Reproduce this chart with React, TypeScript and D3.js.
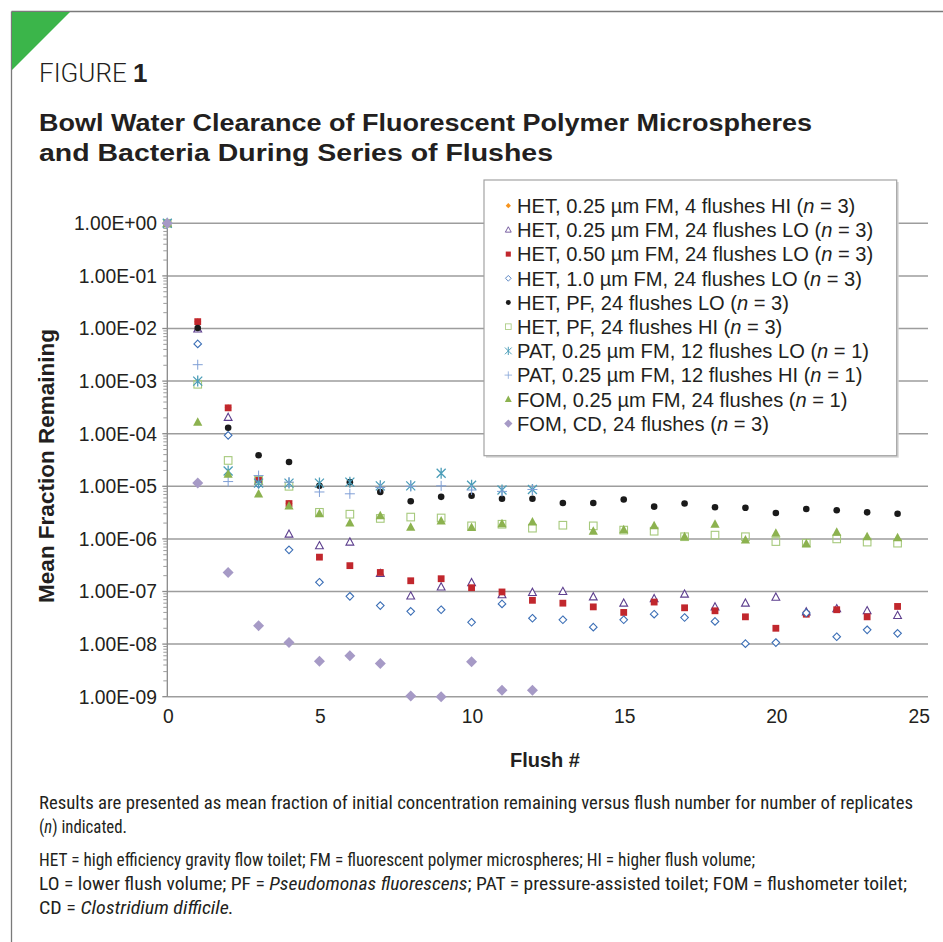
import * as d3 from 'd3';
import React from 'react';

// flush number (x) and one array of mean fraction remaining per series (null = no point)
const flushes = [0, 1, 2, 3, 4, 5, 6, 7, 8, 9, 10, 11, 12, 13, 14, 15, 16, 17, 18, 19, 20, 21, 22, 23, 24];

const het025Hi4 = [1, 1.35e-2, 3.1e-4, 1.3e-5, 4.7e-6];
const het025Lo = [1, 9.8e-3, 2.04e-4, 1.25e-5, 1.23e-6, 7.4e-7, 8.7e-7, 2.2e-7, 8.2e-8, 1.22e-7, 1.47e-7, 8.7e-8, 9.6e-8, 1.0e-7, 7.9e-8, 6.0e-8, 7.3e-8, 8.9e-8, 5.1e-8, 6.0e-8, 7.8e-8, 4.1e-8, 4.7e-8, 4.3e-8, 3.5e-8];
const het050Lo = [1, 1.35e-2, 3.1e-4, 1.3e-5, 4.7e-6, 4.5e-7, 3.1e-7, 2.3e-7, 1.6e-7, 1.75e-7, 1.18e-7, 9.8e-8, 6.8e-8, 6.0e-8, 5.1e-8, 4.0e-8, 6.3e-8, 4.9e-8, 4.3e-8, 3.3e-8, 2.0e-8, 3.7e-8, 4.5e-8, 3.3e-8, 5.2e-8];
const het10Lo = [1, 5.1e-3, 9.3e-5, 1.1e-5, 6.2e-7, 1.5e-7, 8.1e-8, 5.4e-8, 4.2e-8, 4.5e-8, 2.6e-8, 5.8e-8, 3.1e-8, 2.9e-8, 2.1e-8, 2.9e-8, 3.7e-8, 3.2e-8, 2.7e-8, 1.02e-8, 1.07e-8, 3.9e-8, 1.38e-8, 1.87e-8, 1.6e-8];
const hetPfLo = [1, 1.02e-2, 1.3e-4, 3.9e-5, 2.9e-5, 1.02e-5, 1.2e-5, 7.8e-6, 5.2e-6, 6.3e-6, 6.6e-6, 5.8e-6, 5.8e-6, 4.8e-6, 4.8e-6, 5.6e-6, 4.1e-6, 4.7e-6, 4.0e-6, 3.9e-6, 3.1e-6, 3.7e-6, 3.5e-6, 3.2e-6, 3.0e-6];
const hetPfHi = [1, 8.7e-4, 3.1e-5, 1.3e-5, 1.0e-5, 3.2e-6, 2.95e-6, 2.45e-6, 2.6e-6, 2.5e-6, 1.77e-6, 1.9e-6, 1.6e-6, 1.82e-6, 1.77e-6, 1.47e-6, 1.4e-6, 1.1e-6, 1.18e-6, 1.1e-6, 8.9e-7, 8.3e-7, 1.0e-6, 8.7e-7, 8.3e-7];
const pat025Lo = [1, 1.0e-3, 1.95e-5, 1.15e-5, 1.15e-5, 1.15e-5, 1.2e-5, 1.02e-5, 1.02e-5, 1.77e-5, 1.05e-5, 8.5e-6, 8.7e-6];
const pat025Hi = [1, 2.05e-3, 1.23e-5, 1.6e-5, 1.2e-5, 7.8e-6, 7.2e-6, 9.5e-6, 1.0e-5, 1.02e-5, 8.5e-6, 8.0e-6, 8.7e-6];
const fom025 = [1, 1.65e-4, 1.7e-5, 7.1e-6, 4.2e-6, 3.0e-6, 2.0e-6, 2.75e-6, 1.66e-6, 2.2e-6, 1.65e-6, 1.95e-6, 2.1e-6, null, 1.4e-6, 1.5e-6, 1.77e-6, 1.1e-6, 1.9e-6, 9.5e-7, 1.28e-6, 8.1e-7, 1.34e-6, 1.1e-6, 1.05e-6];
const fomCd = [1, 1.15e-5, 2.3e-7, 2.24e-8, 1.07e-8, 4.7e-9, 6.0e-9, 4.3e-9, 1.03e-9, 1.0e-9, 4.6e-9, 1.32e-9, 1.32e-9];

const yTicks = [1e0, 1e-1, 1e-2, 1e-3, 1e-4, 1e-5, 1e-6, 1e-7, 1e-8, 1e-9];
const yTickLabels = ['1.00E+00', '1.00E-01', '1.00E-02', '1.00E-03', '1.00E-04', '1.00E-05', '1.00E-06', '1.00E-07', '1.00E-08', '1.00E-09'];
const xTicks = [0, 5, 10, 15, 20, 25];

const series = [
  { name: 'HET, 0.25 µm FM, 4 flushes HI', n: 3, values: het025Hi4, shape: 'smalldiamond', color: '#f7941d' },
  { name: 'HET, 0.25 µm FM, 24 flushes LO', n: 3, values: het025Lo, shape: 'opentriangle', color: '#5d3f8e' },
  { name: 'HET, 0.50 µm FM, 24 flushes LO', n: 3, values: het050Lo, shape: 'square', color: '#c1272d' },
  { name: 'HET, 1.0 µm FM, 24 flushes LO', n: 3, values: het10Lo, shape: 'opendiamond', color: '#3c6fb6' },
  { name: 'HET, PF, 24 flushes LO', n: 3, values: hetPfLo, shape: 'circle', color: '#1a1a1a' },
  { name: 'HET, PF, 24 flushes HI', n: 3, values: hetPfHi, shape: 'opensquare', color: '#a6c97c' },
  { name: 'PAT, 0.25 µm FM, 12 flushes LO', n: 1, values: pat025Lo, shape: 'asterisk', color: '#4b9db8' },
  { name: 'PAT, 0.25 µm FM, 12 flushes HI', n: 1, values: pat025Hi, shape: 'plus', color: '#7f9fd6' },
  { name: 'FOM, 0.25 µm FM, 24 flushes', n: 1, values: fom025, shape: 'triangle', color: '#8cb24f' },
  { name: 'FOM, CD, 24 flushes', n: 3, values: fomCd, shape: 'diamond', color: '#a69ac6' },
];

const x = d3.scaleLinear().domain([0, 25]).range([167.3, 928]);
const y = d3.scaleLog().domain([1e-9, 1]).range([696.7, 223.3]);

function Marker({ shape, color, cx, cy, k = 1 }) {
  const t = `translate(${cx},${cy}) scale(${k})`;
  switch (shape) {
    case 'smalldiamond':
      return <path transform={t} d="M0,-3.5L3.5,0L0,3.5L-3.5,0Z" fill={color} />;
    case 'opentriangle':
      return <path transform={t} d="M0,-4.2L3.9,3L-3.9,3Z" fill="white" stroke={color} strokeWidth={1.1} />;
    case 'square':
      return <rect transform={t} x={-3.4} y={-3.4} width={6.8} height={6.8} fill={color} />;
    case 'opendiamond':
      return <path transform={t} d="M0,-3.8L3.8,0L0,3.8L-3.8,0Z" fill="white" stroke={color} strokeWidth={1.1} />;
    case 'circle':
      return <circle transform={t} r={3.3} fill={color} />;
    case 'opensquare':
      return <rect transform={t} x={-3.8} y={-3.8} width={7.6} height={7.6} fill="none" stroke={color} strokeWidth={1.1} />;
    case 'asterisk':
      return <path transform={t} d="M-4.5,-4.5L4.5,4.5M-4.5,4.5L4.5,-4.5M0,-5.5L0,5.5" fill="none" stroke={color} strokeWidth={1.3} />;
    case 'plus':
      return <path transform={t} d="M-5,0L5,0M0,-5L0,5" fill="none" stroke={color} strokeWidth={1} />;
    case 'triangle':
      return <path transform={t} d="M0,-5L4.6,3.5L-4.6,3.5Z" fill={color} />;
    case 'diamond':
      return <path transform={t} d="M0,-5.5L5.5,0L0,5.5L-5.5,0Z" fill={color} />;
    default:
      return null;
  }
}

function minorTicks() {
  const out: number[] = [];
  for (let e = -9; e < 0; e++) for (let m = 2; m <= 9; m++) out.push(m * Math.pow(10, e));
  return out;
}

export default function App() {
  const font = '"Liberation Sans", Arial, Helvetica, sans-serif';
  const narrow = '"Liberation Sans Narrow", "Roboto Condensed", "Liberation Sans", Arial, sans-serif';
  const legendX = 484, legendY = 180, legendW = 412.7, legendH = 275.7;
  const rowH = 24.2;

  return (
    <svg width={943} height={942} style={{ position: 'absolute', left: 0, top: 0, background: 'white' }} fontFamily={font}>
      {/* frame + corner */}
      <line x1={11.5} y1={11.5} x2={943} y2={11.5} stroke="#7a7a7a" strokeWidth={1.3} />
      <line x1={11.5} y1={11.5} x2={11.5} y2={942} stroke="#7a7a7a" strokeWidth={1.3} />
      <path d="M12,12L70,12L12,70Z" fill="#3bb54a" />

      <text x={39} y={82} fontFamily='Roboto, "Liberation Sans", sans-serif' fontWeight={300} fontSize={26} fill="#231f20">
        FIGURE <tspan fontWeight={700} fontFamily={font}>1</tspan>
      </text>
      <text x={39} y={131} fontSize={23} fontWeight={700} fill="#231f20" textLength={773} lengthAdjust="spacingAndGlyphs">Bowl Water Clearance of Fluorescent Polymer Microspheres</text>
      <text x={39} y={161} fontSize={23} fontWeight={700} fill="#231f20" textLength={514} lengthAdjust="spacingAndGlyphs">and Bacteria During Series of Flushes</text>

      {/* grid */}
      {yTicks.map((v, i) => (
        <line key={'g' + i} x1={x(0)} x2={x(25)} y1={y(v)} y2={y(v)} stroke="#9d9d9d" strokeWidth={1.5} />
      ))}
      {/* y axis */}
      <line x1={x(0)} x2={x(0)} y1={y(1)} y2={y(1e-9)} stroke="#8a8a8a" strokeWidth={1.3} />
      {minorTicks().map((v, i) => (
        <line key={'m' + i} x1={x(0) - 4} x2={x(0)} y1={y(v)} y2={y(v)} stroke="#9d9d9d" strokeWidth={1} />
      ))}
      {yTicks.map((v, i) => (
        <line key={'t' + i} x1={x(0) - 5} x2={x(0)} y1={y(v)} y2={y(v)} stroke="#8a8a8a" strokeWidth={1.3} />
      ))}
      {yTicks.map((v, i) => (
        <text key={'yl' + i} x={157} y={y(v)} dy="0.36em" textAnchor="end" fontSize={19.3} fill="#231f20">{yTickLabels[i]}</text>
      ))}
      {xTicks.map((v, i) => (
        <text key={'xl' + i} x={i === xTicks.length - 1 ? x(v) + 2 : x(v) + 1} y={723} textAnchor={i === xTicks.length - 1 ? 'end' : 'middle'} fontSize={19.3} fill="#231f20">{v}</text>
      ))}

      <text transform="translate(54,466) rotate(-90)" textAnchor="middle" fontSize={22.5} fontWeight={700} fill="#231f20">Mean Fraction Remaining</text>
      <text x={545} y={767} textAnchor="middle" fontSize={20} fontWeight={700} fill="#231f20">Flush #</text>

      {/* points */}
      {series.map((s, si) => (
        <g key={'s' + si}>
          {s.values.map((v, i) => (v == null ? null : (
            <Marker key={i} shape={s.shape} color={s.color} cx={x(flushes[i])} cy={y(v)} />
          )))}
        </g>
      ))}

      {/* legend */}
      <rect x={legendX + 2} y={legendY + 2} width={legendW} height={legendH} fill="#d4d4d4" />
      <rect x={legendX} y={legendY} width={legendW} height={legendH} fill="white" stroke="#a3a3a3" strokeWidth={1.2} />
      {series.map((s, i) => {
        const cy = legendY + 25.7 + i * rowH;
        return (
          <g key={'lg' + i}>
            <Marker shape={s.shape} color={s.color} cx={legendX + 24.3} cy={cy} k={0.75} />
            <text x={legendX + 33} y={cy} dy="0.36em" fontSize={20.1} fill="#231f20">
              {s.name} (<tspan fontStyle="italic">n</tspan> = {s.n})
            </text>
          </g>
        );
      })}

      {/* caption */}
      <g fontFamily={narrow} fontSize={18} fill="#231f20">
        <text x={39} y={809} textLength={874} lengthAdjust="spacingAndGlyphs">Results are presented as mean fraction of initial concentration remaining versus flush number for number of replicates</text>
        <text x={39} y={833} textLength={88} lengthAdjust="spacingAndGlyphs">(<tspan fontStyle="italic">n</tspan>) indicated.</text>
        <text x={39} y={866} textLength={716} lengthAdjust="spacingAndGlyphs">HET = high efficiency gravity flow toilet; FM = fluorescent polymer microspheres; HI = higher flush volume;</text>
        <text x={39} y={890} textLength={868} lengthAdjust="spacingAndGlyphs">LO = lower flush volume; PF = <tspan fontStyle="italic">Pseudomonas fluorescens</tspan>; PAT = pressure-assisted toilet; FOM = flushometer toilet;</text>
        <text x={39} y={914} textLength={195} lengthAdjust="spacingAndGlyphs">CD = <tspan fontStyle="italic">Clostridium difficile.</tspan></text>
      </g>
    </svg>
  );
}
